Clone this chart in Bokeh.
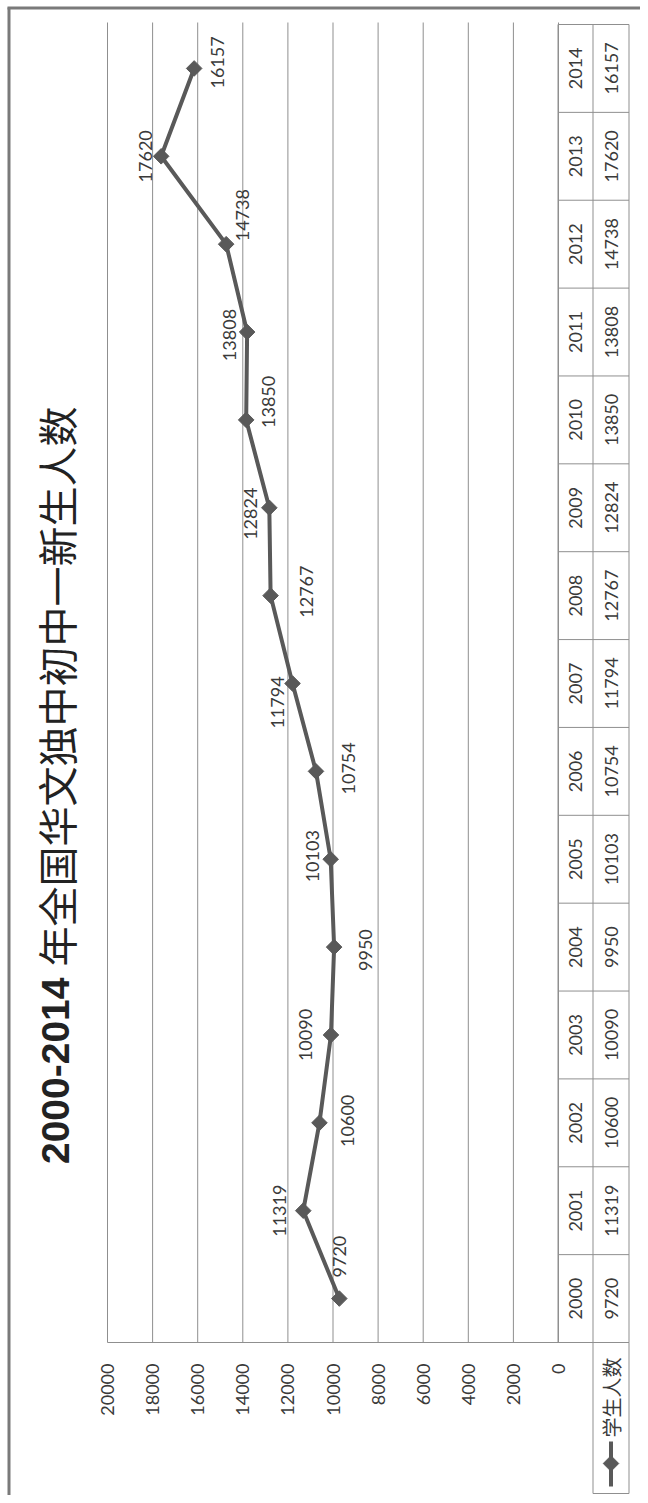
import math
from bokeh.plotting import figure
from bokeh.models import Range1d
from bokeh.core.properties import value
from bokeh.embed import file_html
from bokeh.resources import INLINE

# ---------------- data ----------------
years = [2000, 2001, 2002, 2003, 2004, 2005, 2006, 2007, 2008, 2009, 2010, 2011, 2012, 2013, 2014]
students = [9720, 11319, 10600, 10090, 9950, 10103, 10754, 11794, 12767, 12824, 13850, 13808, 14738, 17620, 16157]
value_ticks = [0, 2000, 4000, 6000, 8000, 10000, 12000, 14000, 16000, 18000, 20000]
value_tick_labels = ["0", "2000", "4000", "6000", "8000", "10000", "12000", "14000", "16000", "18000", "20000"]
title_years = "2000-2014"
title_rest = "年全国华文独中初中一新生人数"
series_name = "学生人数"

# data-label nudges (screen px, dx: right, dy: down)
label_dx = [0, -24, 28, -25, 31, -18, 33, -15, 36, -19, 22, -18, 16, -16, 23]
label_dy = [-42, 0, -2, 0, 3, -3, -3, 19, -4, 6, -18, 3, -29, 0, -6]

# ---------------- layout ----------------
PAGE_L, PAGE_T = 0, 0
W, H = 640, 1495
X_VMAX, X_V0 = 107.0, 558.0        # page x of the 20000 and 0 value lines
VMAX = 20000.0
Y_TOP, Y_BOT = 24.0, 1342.0        # top / bottom of the category band
GRID_TOP = 22.0
TBL_X = [557.5, 592.5, 628.5]      # data-table column borders
LEG_BOT = 1493.0

k = (X_V0 - X_VMAX) / VMAX
def val_at(px):
    return (X_V0 - px) / k

ncat = len(years)
ch = (Y_BOT - Y_TOP) / ncat
def yr_at(py):
    return years[0] - 0.5 + (Y_BOT - py) / ch

p = figure(width=W, height=H,
           x_range=Range1d(PAGE_L, PAGE_L + W),
           y_range=Range1d(PAGE_T + H, PAGE_T),
           x_axis_location=None, y_axis_location=None,
           output_backend="svg", toolbar_location=None,
           min_border=0, title=None)
p.extra_x_ranges = {"val": Range1d(val_at(PAGE_L), val_at(PAGE_L + W))}
p.extra_y_ranges = {"yr": Range1d(yr_at(PAGE_T + H), yr_at(PAGE_T))}
p.grid.visible = False
p.outline_line_color = None
p.background_fill_color = "white"
p.border_fill_color = "white"

GRID = "#8f8f8f"
FRAME = "#7a7a7a"
SERIES = "#595959"
TXT = "#3a3a3a"
FONT = value("Lato")
CJK = value("Noto Sans CJK SC")
ANG = math.pi / 2

# outer frame (left + top)
p.segment(x0=[8.5, 7], y0=[7, 7.5], x1=[8.5, 640], y1=[1495, 7.5],
          line_color=FRAME, line_width=3)

# value grid lines
nt = len(value_ticks)
p.segment(x0=value_ticks, y0=[GRID_TOP] * nt, x1=value_ticks, y1=[Y_BOT] * nt,
          x_range_name="val", line_color=GRID, line_width=1)

# bottom line of plot area + table
p.segment(x0=[X_VMAX], y0=[Y_BOT], x1=[TBL_X[-1]], y1=[Y_BOT],
          line_color=GRID, line_width=1)

# data table borders
p.segment(x0=TBL_X, y0=[years[0] - 0.5] * 3, x1=TBL_X, y1=[years[-1] + 0.5] * 3,
          y_range_name="yr", line_color=GRID, line_width=1)
bounds = [y - 0.5 for y in years] + [years[-1] + 0.5]
p.segment(x0=[TBL_X[0]] * len(bounds), y0=bounds, x1=[TBL_X[-1]] * len(bounds), y1=bounds,
          y_range_name="yr", line_color=GRID, line_width=1)

# legend cell borders
p.segment(x0=[TBL_X[1], TBL_X[2], TBL_X[1]], y0=[Y_BOT, Y_BOT, LEG_BOT],
          x1=[TBL_X[1], TBL_X[2], TBL_X[2]], y1=[LEG_BOT, LEG_BOT, LEG_BOT],
          line_color=GRID, line_width=1)

# table texts
year_col = (TBL_X[0] + TBL_X[1]) / 2
val_col = (TBL_X[1] + TBL_X[2]) / 2
p.text(x=[year_col] * ncat, y=years, text=[str(y) for y in years], y_range_name="yr",
       angle=ANG, text_align="center", text_baseline="middle",
       text_font=FONT, text_font_size="18px", text_color=TXT)
p.text(x=[val_col] * ncat, y=years, text=[str(s) for s in students], y_range_name="yr",
       angle=ANG, text_align="center", text_baseline="middle",
       text_font=FONT, text_font_size="18px", text_color=TXT)

# value tick labels
p.text(x=value_ticks, y=[1363] * nt, text=value_tick_labels, x_range_name="val",
       angle=ANG, text_align="right", text_baseline="middle",
       text_font=FONT, text_font_size="18px", text_color=TXT)

# series
p.line(x=students, y=years, x_range_name="val", y_range_name="yr",
       line_color=SERIES, line_width=4, line_join="round")
p.scatter(x=students, y=years, x_range_name="val", y_range_name="yr",
          marker="square", angle=math.pi / 4, size=11,
          fill_color=SERIES, line_color=SERIES)

# data labels
p.text(x=students, y=years, text=[str(s) for s in students],
       x_offset=label_dx, y_offset=label_dy,
       x_range_name="val", y_range_name="yr",
       angle=ANG, text_align="center", text_baseline="middle",
       text_font=FONT, text_font_size="18px", text_color=TXT)

# legend
p.segment(x0=[val_col], y0=[1441], x1=[val_col], y1=[1486],
          line_color=SERIES, line_width=4)
p.scatter(x=[val_col], y=[1463], marker="square", angle=math.pi / 4, size=11,
          fill_color=SERIES, line_color=SERIES)
p.text(x=[val_col], y=[1437], text=[series_name], angle=ANG,
       text_align="left", text_baseline="middle",
       text_font=CJK, text_font_size="20px", text_color=TXT)

# title
p.text(x=[55], y=[977], text=[title_years], angle=ANG,
       text_align="right", text_baseline="middle",
       text_font=value("Liberation Sans"), text_font_style="bold",
       text_font_size="39px", text_color="#222222")
p.text(x=[55], y=[966], text=[title_rest], angle=ANG,
       text_align="left", text_baseline="middle",
       text_font=CJK, text_font_size="40px", text_color="#222222")

open("out.html", "w").write(file_html(p, INLINE))
